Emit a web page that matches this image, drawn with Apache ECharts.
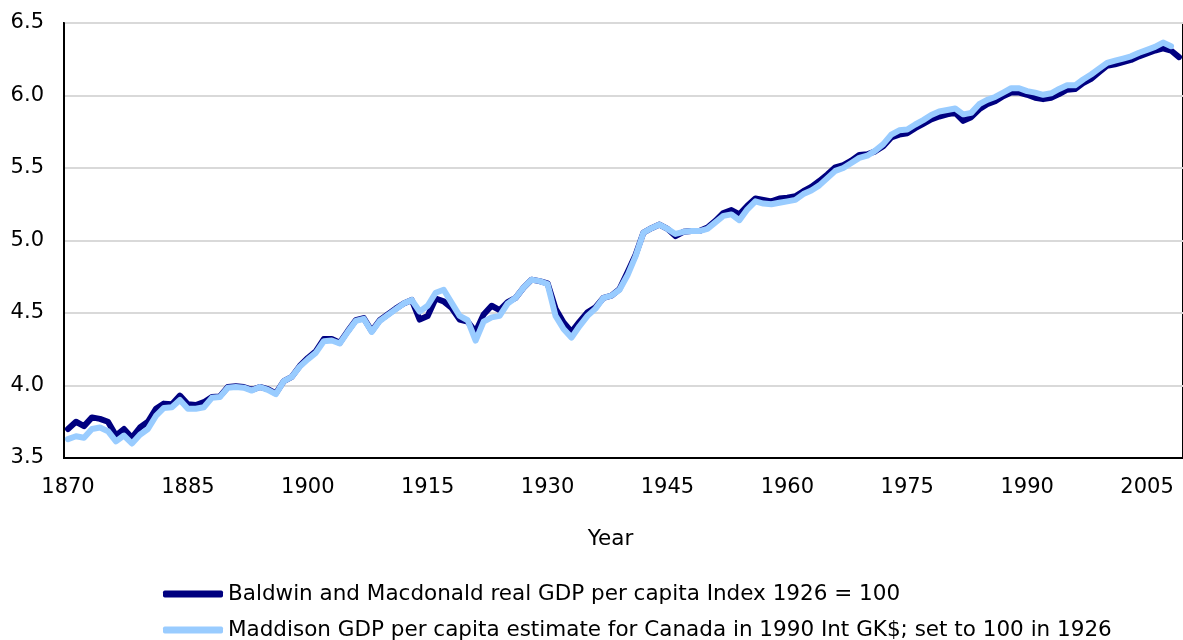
<!DOCTYPE html>
<html>
<head>
<meta charset="utf-8">
<title>Real GDP per capita, Canada</title>
<script src="https://cdn.jsdelivr.net/npm/echarts@6/dist/echarts.min.js"></script>
<style>
  html, body { margin: 0; padding: 0; background: #fff; }
  #chart { width: 1183px; height: 640px; }
</style>
</head>
<body>
<div id="chart"></div>
<script>
// years 1870 - 2009
const years = []
for (let y = 1870; y <= 2009; y++) years.push(String(y))

// Baldwin and Macdonald, one row per decade
const baldwin = [
  3.70, 3.75, 3.72, 3.78, 3.77, 3.75, 3.655, 3.70, 3.64, 3.71,
  3.75, 3.84, 3.875, 3.87, 3.93, 3.87, 3.865, 3.885, 3.92, 3.925,
  3.99, 3.995, 3.99, 3.97, 3.99, 3.975, 3.945, 4.03, 4.06, 4.135,
  4.19, 4.235, 4.32, 4.32, 4.295, 4.375, 4.45, 4.465, 4.375, 4.45,
  4.49, 4.53, 4.565, 4.59, 4.455, 4.48, 4.60, 4.58, 4.535, 4.455,
  4.44, 4.37, 4.49, 4.55, 4.52, 4.575, 4.605, 4.675, 4.73, 4.72,
  4.705, 4.53, 4.435, 4.37, 4.44, 4.505, 4.54, 4.605, 4.62, 4.665,
  4.78, 4.90, 5.055, 5.085, 5.11, 5.08, 5.03, 5.06, 5.065, 5.065,
  5.09, 5.135, 5.19, 5.21, 5.18, 5.24, 5.29, 5.28, 5.27, 5.29,
  5.295, 5.305, 5.34, 5.37, 5.41, 5.455, 5.505, 5.52, 5.55, 5.59,
  5.595, 5.615, 5.65, 5.71, 5.73, 5.74, 5.775, 5.805, 5.835, 5.855,
  5.87, 5.88, 5.825, 5.85, 5.905, 5.94, 5.96, 5.995, 6.02, 6.02,
  6.005, 5.985, 5.975, 5.985, 6.01, 6.04, 6.045, 6.085, 6.115, 6.16,
  6.205, 6.215, 6.23, 6.245, 6.27, 6.29, 6.31, 6.325, 6.31, 6.265
]

// Maddison, one row per decade (no 2009 value)
const maddison = [
  3.63, 3.65, 3.64, 3.70, 3.71, 3.685, 3.615, 3.655, 3.60, 3.66,
  3.70, 3.79, 3.845, 3.85, 3.90, 3.84, 3.84, 3.85, 3.915, 3.92,
  3.985, 3.99, 3.985, 3.965, 3.99, 3.97, 3.94, 4.03, 4.06, 4.13,
  4.18, 4.225, 4.305, 4.31, 4.29, 4.37, 4.445, 4.46, 4.37, 4.445,
  4.485, 4.525, 4.565, 4.59, 4.51, 4.55, 4.64, 4.66, 4.57, 4.48,
  4.45, 4.31, 4.44, 4.47, 4.48, 4.565, 4.605, 4.675, 4.73, 4.72,
  4.70, 4.48, 4.39, 4.33, 4.41, 4.48, 4.53, 4.605, 4.62, 4.66,
  4.76, 4.89, 5.055, 5.085, 5.11, 5.08, 5.045, 5.06, 5.065, 5.065,
  5.08, 5.125, 5.17, 5.18, 5.14, 5.215, 5.27, 5.255, 5.25, 5.26,
  5.27, 5.28, 5.32, 5.345, 5.38, 5.43, 5.48, 5.50, 5.535, 5.57,
  5.585, 5.62, 5.665, 5.73, 5.76, 5.765, 5.80, 5.83, 5.865, 5.89,
  5.90, 5.91, 5.87, 5.88, 5.94, 5.97, 5.99, 6.02, 6.05, 6.05,
  6.03, 6.02, 6.005, 6.015, 6.045, 6.07, 6.07, 6.11, 6.145, 6.185,
  6.225, 6.24, 6.255, 6.27, 6.295, 6.315, 6.335, 6.365, 6.34, null
]

const seriesNames = [
  'Baldwin and Macdonald real GDP per capita Index 1926 = 100',
  'Maddison GDP per capita estimate for Canada in 1990 Int GK$; set to 100 in 1926'
]

const font = 'DejaVu Sans, Verdana, sans-serif'
const fontSize = 21.5

const chart = echarts.init(document.getElementById('chart'), null, { renderer: 'canvas' })

// one legend per row so the two items stack
function legendRow(name, top) {
  return {
    left: 158,
    top: top,
    itemWidth: 60,
    itemHeight: 7,
    icon: 'roundRect',
    textStyle: { fontFamily: font, fontSize: fontSize, color: '#000' },
    data: [name]
  }
}

chart.setOption({
  animation: false,
  textStyle: { fontFamily: font },
  grid: {
    left: 64, right: -2, top: 23, bottom: 182,
    show: true, borderColor: '#000', borderWidth: 2
  },
  legend: [
    legendRow(seriesNames[0], 578),
    legendRow(seriesNames[1], 614)
  ],
  xAxis: {
    type: 'category',
    data: years,
    boundaryGap: true,
    name: 'Year',
    nameLocation: 'middle',
    nameGap: 70,
    nameTextStyle: { fontFamily: font, fontSize: fontSize, color: '#000', padding: [0, 26, 0, 0] },
    axisLine: { show: true, lineStyle: { color: '#000', width: 2 } },
    axisTick: { show: false },
    axisLabel: { interval: 14, fontFamily: font, fontSize: 21, color: '#000', margin: 19 },
    splitLine: { show: false }
  },
  yAxis: {
    type: 'value',
    min: 3.5, max: 6.5, interval: 0.5,
    axisLine: { show: true, lineStyle: { color: '#000', width: 2 } },
    axisTick: { show: false },
    axisLabel: {
      fontFamily: font, fontSize: 21, color: '#000', margin: 20,
      formatter: v => v.toFixed(1)
    },
    splitLine: { show: true, lineStyle: { color: '#d9d9d9', width: 2 } }
  },
  series: [
    {
      name: seriesNames[0],
      type: 'line',
      data: baldwin,
      showSymbol: false,
      color: '#000080',
      lineStyle: { color: '#000080', width: 6, join: 'round', cap: 'round' }
    },
    {
      name: seriesNames[1],
      type: 'line',
      data: maddison,
      showSymbol: false,
      color: '#99ccff',
      lineStyle: { color: '#99ccff', width: 6, join: 'round', cap: 'round' }
    }
  ]
})

window.addEventListener('resize', () => chart.resize())
</script>
</body>
</html>
